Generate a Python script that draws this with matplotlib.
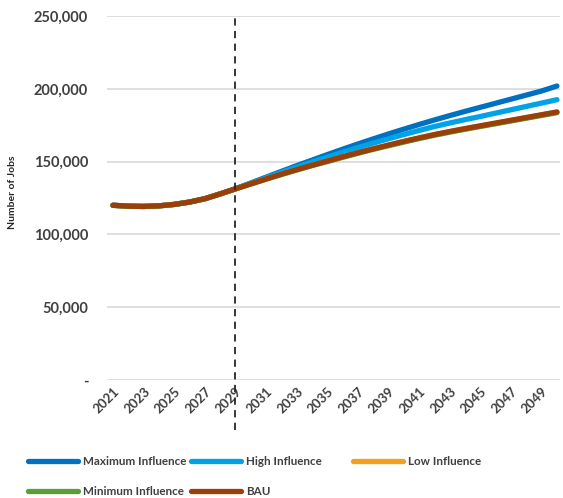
import matplotlib
matplotlib.use("Agg")
import matplotlib.pyplot as plt
from matplotlib.lines import Line2D
from matplotlib.ticker import FuncFormatter

years = list(range(2021, 2051))

common = [120.0, 119.4, 119.2, 119.6, 120.6, 122.2, 124.5, 127.8, 131.3]

bau = common + [134.7, 138.1, 141.4, 144.5, 147.5, 150.4, 153.3, 156.1, 158.8,
                161.4, 163.9, 166.3, 168.6, 170.7, 172.7, 174.6, 176.5, 178.4,
                180.3, 182.2, 184.1]
minimum = common + [134.6, 137.9, 141.1, 144.2, 147.2, 150.0, 152.9, 155.7, 158.4,
                    160.9, 163.4, 165.8, 168.1, 170.2, 172.2, 174.1, 176.0, 177.9,
                    179.8, 181.7, 183.6]
low = common + [134.7, 138.0, 141.3, 144.4, 147.4, 150.3, 153.2, 156.0, 158.7,
                161.2, 163.7, 166.1, 168.4, 170.5, 172.5, 174.4, 176.3, 178.2,
                180.1, 182.0, 183.9]
high = common + [135.1, 138.9, 142.6, 146.2, 149.7, 153.1, 156.4, 159.6, 162.7,
                 165.7, 168.6, 171.4, 174.1, 176.5, 178.8, 181.0, 183.3, 185.6,
                 187.9, 190.2, 192.5]
maximum = common + [135.3, 139.3, 143.3, 147.2, 151.0, 154.8, 158.5, 162.1, 165.6,
                    169.0, 172.3, 175.5, 178.6, 181.6, 184.5, 187.3, 190.1, 192.9,
                    195.7, 198.5, 201.9]

series = [
    ("Maximum Influence", maximum, "#0070C0"),
    ("High Influence", high, "#00A3E8"),
    ("Low Influence", low, "#F4A01C"),
    ("Minimum Influence", minimum, "#5B9E35"),
    ("BAU", bau, "#9A3F0A"),
]

yticks = [0, 50000, 100000, 150000, 200000, 250000]
xtick_years = list(range(2021, 2050, 2))
policy_year = 2029

plt.rcParams['font.family'] = ['Lato', 'DejaVu Sans']

fig = plt.figure(figsize=(5.63, 4.98), dpi=100)
ax = fig.add_axes([107/563, 1-380/498, (560-107)/563, (380-16)/498])

for name, vals, col in series:
    ax.plot(years, [v*1000 for v in vals], color=col, lw=3.8,
            solid_capstyle='round', zorder=3)

ax.set_ylim(0, 250000)
ax.set_xlim(2020.61, 2050.2)
ax.set_yticks(yticks)
ax.yaxis.set_major_formatter(FuncFormatter(lambda v, p: "-" if v == 0 else f"{int(v):,}"))
ax.set_xticks(xtick_years)
ax.set_xticklabels([str(y) for y in xtick_years], rotation=45, ha='right',
                   va='top', rotation_mode='anchor', fontsize=9.5, fontweight='bold',
                   color='#404040')
for lab in ax.get_yticklabels():
    lab.set_fontsize(10.5)
    lab.set_fontweight('bold')
    lab.set_color('#404040')
ax.tick_params(length=0)
ax.tick_params(axis='y', pad=13.5)
ax.tick_params(axis='x', pad=4)
ax.grid(axis='y', color='#D9D9D9', lw=1.2)
ax.set_axisbelow(True)
for s in ax.spines.values():
    s.set_visible(False)

ax.set_ylabel("Number of Jobs", fontsize=7.5, fontweight='bold', color='#262626')
ax.yaxis.set_label_coords(-0.199, 0.516)

ax.plot([policy_year, policy_year], [-34000, 249000], color='#262626', lw=1.3,
        ls=(0, (4, 3)), clip_on=False, zorder=4)

# legend, placed manually to mimic the reference layout
rows = [461, 491]
cols = [(28, 78), (191, 241), (353, 403)]
positions = [(0, 0), (0, 1), (0, 2), (1, 0), (1, 1)]
for (name, vals, col), (r, c) in zip(series, positions):
    x0, x1 = cols[c]
    y = 1 - rows[r]/498
    fig.add_artist(Line2D([x0/563, x1/563], [y, y], color=col, lw=3.8,
                          solid_capstyle='round', transform=fig.transFigure))
    fig.text((x1+5)/563, y, name, fontsize=8.4, fontweight='bold', color='#404040',
             va='center', ha='left')

fig.savefig("out.png", dpi=100)
